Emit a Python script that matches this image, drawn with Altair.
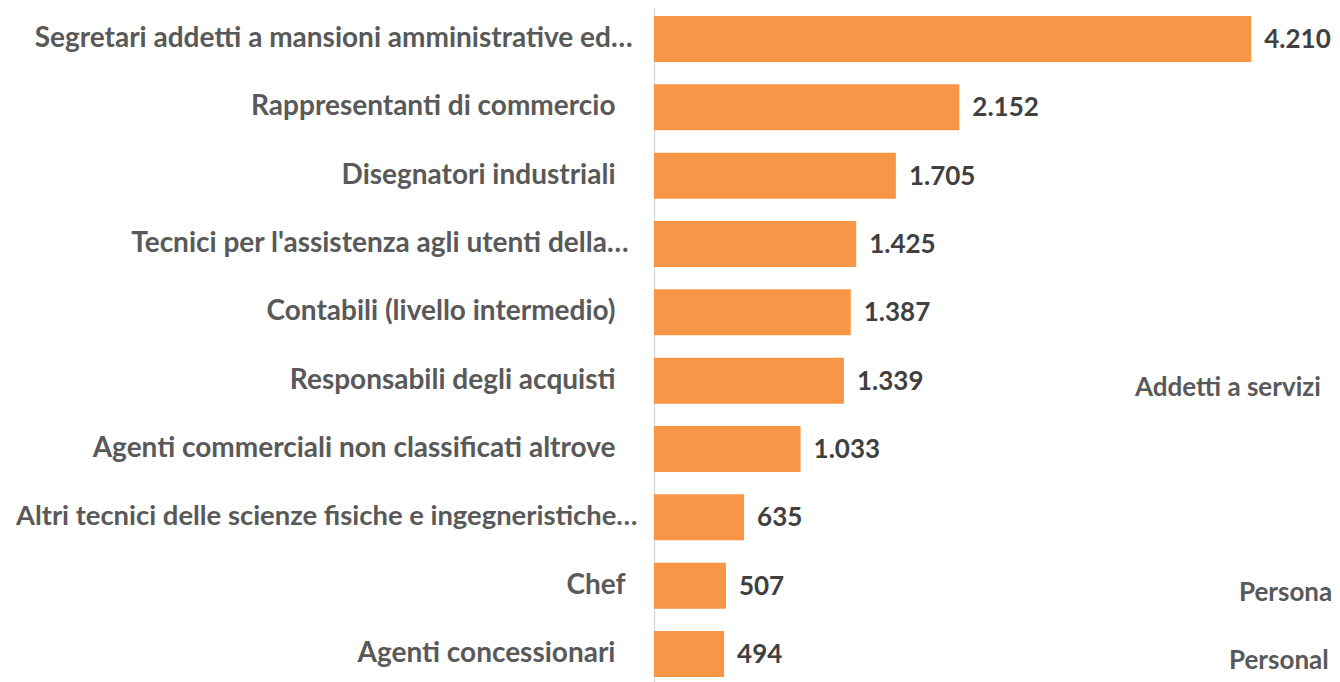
import altair as alt
import pandas as pd

categories = [
    "Segretari addetti a mansioni amministrative ed…",
    "Rappresentanti di commercio",
    "Disegnatori industriali",
    "Tecnici per l'assistenza agli utenti della…",
    "Contabili (livello intermedio)",
    "Responsabili degli acquisti",
    "Agenti commerciali non classificati altrove",
    "Altri tecnici delle scienze fisiche e ingegneristiche…",
    "Chef",
    "Agenti concessionari",
]
values = [4210, 2152, 1705, 1425, 1387, 1339, 1033, 635, 507, 494]

# partially visible labels of a neighbouring chart (cut off at the right edge)
side_texts = ["Addetti a servizi", "Persona", "Personal"]
side_rows = [5, 8, 9]
side_x = [3390, 4123, 4053]

df = pd.DataFrame({
    "cat": categories,
    "val": values,
    "lab": [f"{v:,}".replace(",", ".") for v in values],
})
side_df = pd.DataFrame({
    "cat": [categories[i] for i in side_rows],
    "txt": side_texts,
    "x": side_x,
})

# label indents (the source labels carried trailing blanks)
indent = {"Segre": 22, "Tecni": 26, "Altri": 17, "Chef": 29}
conds = [
    {"test": f"slice(datum.value, 0, {len(k)}) == '{k}'", "value": v}
    for k, v in indent.items()
]
label_pad = {"condition": conds, "value": 39}
label_size = {"condition": {"test": "slice(datum.value, 0, 5) == 'Altri'", "value": 27.4}, "value": 28}

FONT = "Lato"
xscale = alt.Scale(domain=[0, 4779], nice=False, zero=True)
yscale = alt.Scale(paddingInner=0.3268, paddingOuter=0.0953, align=0.615)

y_enc = alt.Y(
    "cat:N",
    sort=categories,
    scale=yscale,
    title=None,
    axis=alt.Axis(
        ticks=False,
        domain=True,
        domainColor="#d9d9d9",
        domainWidth=1.5,
        labelFont=FONT,
        labelFontSize=label_size,
        labelFontWeight="bold",
        labelColor="#595959",
        labelPadding=label_pad,
        labelLimit=0,
        grid=False,
    ),
)

bars = alt.Chart(df).mark_bar(color="#F79646").encode(
    x=alt.X("val:Q", scale=xscale, axis=None),
    y=y_enc,
)

labels = alt.Chart(df).mark_text(
    align="left", baseline="middle", dx=13, dy=1,
    font=FONT, fontSize=26, fontWeight="bold", color="#404040",
).encode(
    x=alt.X("val:Q", scale=xscale, axis=None),
    y=alt.Y("cat:N", sort=categories, scale=yscale, title=None),
    text="lab:N",
)

side = alt.Chart(side_df).mark_text(
    align="left", baseline="middle", dy=7,
    font=FONT, fontSize=26, fontWeight="bold", color="#595959",
).encode(
    x=alt.X("x:Q", scale=xscale, axis=None),
    y=alt.Y("cat:N", sort=categories, scale=yscale, title=None),
    text="txt:N",
)

chart = (
    alt.layer(bars, labels, side)
    .properties(
        width=678,
        height=674,
        autosize=alt.AutoSizeParams(type="none"),
        padding={"left": 646, "top": 0, "right": 0, "bottom": 0},
        background="white",
    )
    .configure_view(stroke=None)
)

chart.save("out.html", embed_options={"renderer": "svg", "actions": False})
